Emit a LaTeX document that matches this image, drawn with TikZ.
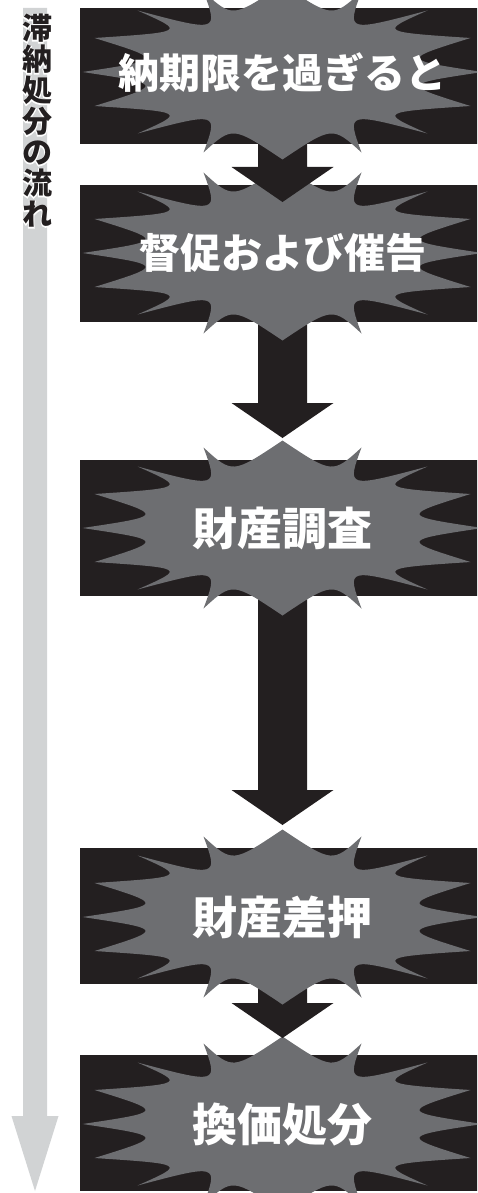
\documentclass[tikz,border=0pt]{standalone}
\usepackage{fontspec}
\newfontfamily\jpfont{Noto Sans CJK JP}
\usetikzlibrary{calc}
\definecolor{inkblack}{RGB}{35,31,32}
\definecolor{burstgray}{RGB}{109,110,113}
\definecolor{flowgray}{RGB}{209,211,212}
\newcommand\flowarrow[2]{%
  \fill[inkblack] ($(#1)+(-24.5,0)$) -- ($(#2)+(-24.5,-35)$) -- ($(#2)+(-51,-35)$) -- (#2)
    -- ($(#2)+(51,-35)$) -- ($(#2)+(24.5,-35)$) -- ($(#1)+(24.5,0)$) -- cycle;}
\newcommand\haloch[1]{\makebox[0pt][l]{\color{white}\addfontfeature{FakeBold=6}#1}#1}
\tikzset{
  stepbox/.style={fill=inkblack, draw=none, minimum width=400pt, minimum height=136pt, inner sep=0pt, outer sep=0pt},
  burst/.pic={
    \fill[burstgray] (200,0) .. controls (118,-12.3) .. (188,-34)
      .. controls (96.5,-40.1) .. (145,-61.5)
      .. controls (64,-40) .. (79,-80.5)
      .. controls (50,-54) .. (0,-87.5)
      .. controls (-50,-54) .. (-79,-80.5)
      .. controls (-64,-40) .. (-145,-61.5)
      .. controls (-96.5,-40.1) .. (-188,-34)
      .. controls (-118,-12.3) .. (-200,0)
      .. controls (-118,12.3) .. (-188,34)
      .. controls (-96.5,40.1) .. (-145,61.5)
      .. controls (-64,40) .. (-79,80.5)
      .. controls (-50,54) .. (0,87.5)
      .. controls (50,54) .. (79,80.5)
      .. controls (64,40) .. (145,61.5)
      .. controls (96.5,40.1) .. (188,34)
      .. controls (118,12.3) .. (200,0) -- cycle;
  },
  lblA/.style={text=white, inner sep=0pt, font=\jpfont\bfseries\fontsize{41}{41}\selectfont, text height=36pt, text depth=5pt},
  lblB/.style={text=white, inner sep=0pt, font=\jpfont\bfseries\fontsize{45}{45}\selectfont, text height=39.6pt, text depth=5.4pt},
  flowlabel/.style={text=inkblack, inner sep=0pt, align=center, font=\jpfont\bfseries\fontsize{30}{31}\selectfont}
}
\begin{document}
\begin{tikzpicture}[x=1pt, y=-1pt]
\useasboundingbox (0,0) rectangle (477,1193);
\clip (0,0) rectangle (477,1193);
% named anchor points
\coordinate (c1) at (282.5,72);
\coordinate (c2) at (282.5,253);
\coordinate (c3) at (282.5,528);
\coordinate (c4) at (282.5,917);
\coordinate (c5) at (282.5,1124);
\coordinate (tip1) at (282.5,202);
\coordinate (tip2) at (282.5,438);
\coordinate (tip3) at (282.5,825);
\coordinate (tip4) at (282.5,1038);
\coordinate (flowtop) at (35,8);
\coordinate (flowtip) at (35,1191);
% overall flow arrow
\fill[flowgray] ($(flowtop)+(-12,0)$) -- ($(flowtip)+(-12,-75)$) -- ($(flowtip)+(-23.5,-75)$) -- (flowtip)
  -- ($(flowtip)+(23.5,-75)$) -- ($(flowtip)+(12,-75)$) -- ($(flowtop)+(12,0)$) -- cycle;
\node[flowlabel] (flowtxt) at (37,121) {\haloch{滞}\\\haloch{納}\\\haloch{処}\\\haloch{分}\\\haloch{の}\\\haloch{流}\\\haloch{れ}};
% step 5
\node[stepbox] (b5) at (280,1123) {};
\pic at (c5) {burst};
\node[lblB] (n5) at (c5) {換価処分};
\flowarrow{c4}{tip4}
% step 4
\node[stepbox] (b4) at (280,916) {};
\pic at (c4) {burst};
\node[lblB] (n4) at (c4) {財産差押};
\flowarrow{c3}{tip3}
% step 3
\node[stepbox] (b3) at (280,527.5) {};
\pic at (c3) {burst};
\node[lblB] (n3) at (c3) {財産調査};
\flowarrow{c2}{tip2}
% step 2
\node[stepbox] (b2) at (280,253.5) {};
\pic at (c2) {burst};
\node[lblA] (n2) at (c2) {督促および催告};
\flowarrow{c1}{tip1}
% step 1
\node[stepbox] (b1) at (280,76) {};
\pic at (c1) {burst};
\node[lblA] (n1) at (282.5,73.5) {納期限を過ぎると};
\end{tikzpicture}
\end{document}
